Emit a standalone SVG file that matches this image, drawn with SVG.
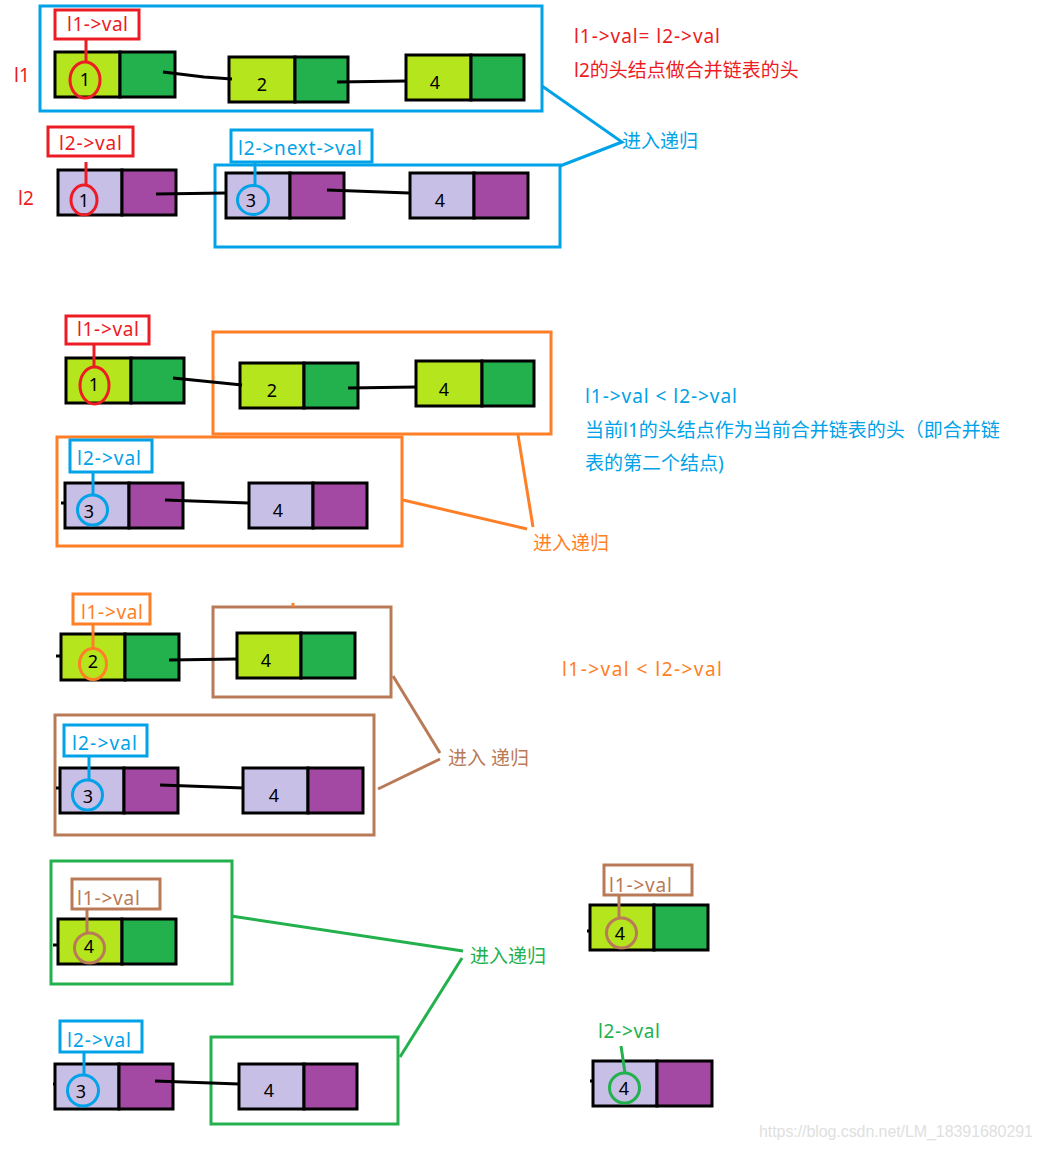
<svg xmlns="http://www.w3.org/2000/svg" width="1041" height="1149" viewBox="0 0 1041 1149">
<style>
text{font-family:"Noto Sans","Noto Sans CJK SC",sans-serif;font-size:19px}
.num{font-size:18px;fill:#000;text-anchor:middle}
.c{stroke:#000;stroke-width:3}
.lg{fill:#b5e61d}.dg{fill:#22b14c}.lv{fill:#c8bfe7}.pu{fill:#a349a4}
.box{fill:none;stroke-width:3}
.lb{fill:#fff;stroke-width:3}
.red{stroke:#ed1c24}.blu{stroke:#00a2e8}.org{stroke:#ff7f27}.brn{stroke:#b97a57}.grn{stroke:#22b14c}
.tr{fill:#ed1c24}.tb{fill:#00a2e8}.to{fill:#ff7f27}.tn{fill:#b97a57}.tg{fill:#22b14c}
.ring{fill:none;stroke-width:3}
.ln{fill:none;stroke-width:3}
.k{fill:none;stroke:#000;stroke-width:3}
</style>

<g id="boxes">
<rect class="box blu" x="40" y="6" width="502" height="105"/>
<rect class="box blu" x="215" y="165" width="345" height="82"/>
<rect class="box org" x="213" y="332" width="338" height="102"/>
<rect class="box org" x="57" y="437" width="345" height="109"/>
<rect class="box brn" x="213" y="607" width="178" height="90"/>
<rect class="box brn" x="55" y="715" width="319" height="120"/>
<rect class="box grn" x="51" y="861" width="181" height="123"/>
<rect class="box grn" x="211" y="1037" width="187" height="87"/>
</g>

<g id="n1a"><rect class="c lg" x="55" y="52" width="65" height="45"/><rect class="c dg" x="120" y="52" width="55" height="45"/><text class="num" x="85" y="86">1</text></g>
<g id="n1b"><rect class="c lg" x="229" y="57" width="66" height="45"/><rect class="c dg" x="295" y="57" width="53" height="45"/><text class="num" x="262" y="91">2</text></g>
<g id="n1c"><rect class="c lg" x="406" y="55" width="65" height="45"/><rect class="c dg" x="471" y="55" width="53" height="45"/><text class="num" x="435" y="89">4</text></g>
<g id="n2a"><rect class="c lv" x="58" y="170" width="64" height="45"/><rect class="c pu" x="122" y="170" width="54" height="45"/><text class="num" x="84" y="207">1</text></g>
<g id="n2b"><rect class="c lv" x="226" y="173" width="64" height="45"/><rect class="c pu" x="290" y="173" width="54" height="45"/><text class="num" x="251" y="207">3</text></g>
<g id="n2c"><rect class="c lv" x="410" y="173" width="64" height="45"/><rect class="c pu" x="474" y="173" width="54" height="45"/><text class="num" x="440" y="207">4</text></g>

<g id="n3a"><rect class="c lg" x="66" y="358" width="65" height="45"/><rect class="c dg" x="131" y="358" width="53" height="45"/><text class="num" x="94" y="391">1</text></g>
<g id="n3b"><rect class="c lg" x="240" y="363" width="64" height="45"/><rect class="c dg" x="304" y="363" width="54" height="45"/><text class="num" x="272" y="397">2</text></g>
<g id="n3c"><rect class="c lg" x="416" y="361" width="66" height="45"/><rect class="c dg" x="482" y="361" width="52" height="45"/><text class="num" x="444" y="396">4</text></g>
<g id="n4a"><rect class="c lv" x="65" y="483" width="64" height="45"/><rect class="c pu" x="129" y="483" width="54" height="45"/><text class="num" x="89" y="518">3</text></g>
<g id="n4b"><rect class="c lv" x="249" y="483" width="64" height="45"/><rect class="c pu" x="313" y="483" width="54" height="45"/><text class="num" x="278" y="517">4</text></g>

<g id="n5a"><rect class="c lg" x="61" y="634" width="64" height="46"/><rect class="c dg" x="125" y="634" width="54" height="46"/><text class="num" x="93" y="668">2</text></g>
<g id="n5b"><rect class="c lg" x="237" y="633" width="64" height="45"/><rect class="c dg" x="301" y="633" width="54" height="45"/><text class="num" x="266" y="667">4</text></g>
<g id="n6a"><rect class="c lv" x="60" y="768" width="64" height="45"/><rect class="c pu" x="124" y="768" width="54" height="45"/><text class="num" x="88" y="803">3</text></g>
<g id="n6b"><rect class="c lv" x="243" y="768" width="65" height="45"/><rect class="c pu" x="308" y="768" width="55" height="45"/><text class="num" x="274" y="802">4</text></g>

<g id="n7a"><rect class="c lg" x="58" y="919" width="64" height="45"/><rect class="c dg" x="122" y="919" width="54" height="45"/><text class="num" x="89" y="953">4</text></g>
<g id="n8a"><rect class="c lv" x="55" y="1064" width="64" height="45"/><rect class="c pu" x="119" y="1064" width="54" height="45"/><text class="num" x="81" y="1098">3</text></g>
<g id="n8b"><rect class="c lv" x="239" y="1064" width="65" height="45"/><rect class="c pu" x="304" y="1064" width="53" height="45"/><text class="num" x="269" y="1097">4</text></g>
<g id="n9a"><rect class="c lg" x="590" y="905" width="64" height="45"/><rect class="c dg" x="654" y="905" width="54" height="45"/><text class="num" x="620" y="940">4</text></g>
<g id="n10a"><rect class="c lv" x="593" y="1061" width="64" height="45"/><rect class="c pu" x="657" y="1061" width="55" height="45"/><text class="num" x="624" y="1095">4</text></g>

<g id="connectors">
<polyline class="k" points="163,72 204,77 232,79"/>
<line class="k" x1="337" y1="82" x2="406" y2="81"/>
<line class="k" x1="156" y1="194" x2="226" y2="193"/>
<line class="k" x1="327" y1="190" x2="409" y2="193"/>
<line class="k" x1="173" y1="378" x2="242" y2="385"/>
<line class="k" x1="348" y1="388" x2="417" y2="387"/>
<line class="k" x1="165" y1="500" x2="248" y2="503"/>
<line class="k" x1="169" y1="660" x2="237" y2="659"/>
<line class="k" x1="160" y1="785" x2="244" y2="788"/>
<line class="k" x1="155" y1="1081" x2="239" y2="1084"/>
<line class="k" x1="61" y1="503" x2="66" y2="503"/>
<line class="k" x1="56" y1="656" x2="62" y2="656"/>
<line class="k" x1="56" y1="788" x2="61" y2="788"/>
<line class="k" x1="53" y1="945" x2="59" y2="945"/>
<line class="k" x1="53" y1="1084" x2="56" y2="1084"/>
<line class="k" x1="587" y1="931" x2="591" y2="931"/>
<line class="k" x1="590" y1="1081" x2="594" y2="1081"/>
<line class="ln org" x1="293" y1="603" x2="293" y2="607"/>
<line class="ln red" x1="86" y1="39" x2="86" y2="62"/>
<line class="ln red" x1="86" y1="162" x2="86" y2="185"/>
<line class="ln blu" x1="255" y1="162" x2="255" y2="186"/>
<line class="ln red" x1="94" y1="344" x2="94" y2="367"/>
<line class="ln blu" x1="93" y1="472" x2="93" y2="495"/>
<line class="ln org" x1="93" y1="624" x2="93" y2="650"/>
<line class="ln blu" x1="89" y1="756" x2="89" y2="780"/>
<line class="ln brn" x1="87" y1="909" x2="87" y2="933"/>
<line class="ln blu" x1="84" y1="1052" x2="84" y2="1075"/>
<line class="ln brn" x1="619" y1="895" x2="619" y2="918"/>
<line class="ln grn" x1="621" y1="1046" x2="625" y2="1073"/>
<polyline class="ln blu" points="542,86 622,142 560,166"/>
<line class="ln org" x1="518" y1="435" x2="533" y2="527"/>
<line class="ln org" x1="403" y1="500" x2="527" y2="529"/>
<line class="ln brn" x1="393" y1="676" x2="440" y2="753"/>
<line class="ln brn" x1="378" y1="789" x2="440" y2="759"/>
<line class="ln grn" x1="231" y1="916" x2="463" y2="951"/>
<line class="ln grn" x1="462" y1="958" x2="400" y2="1057"/>
</g>

<g id="rings">
<ellipse class="ring red" cx="85" cy="80" rx="15" ry="18"/>
<ellipse class="ring red" cx="84" cy="200" rx="13" ry="15"/>
<ellipse class="ring blu" cx="253" cy="200" rx="15.5" ry="14.5"/>
<ellipse class="ring red" cx="94.5" cy="385.5" rx="14.5" ry="18.5"/>
<circle class="ring blu" cx="92.5" cy="510" r="15"/>
<ellipse class="ring org" cx="93" cy="664" rx="13.5" ry="15.5"/>
<circle class="ring blu" cx="87.5" cy="795" r="15"/>
<circle class="ring brn" cx="89.5" cy="948" r="15"/>
<circle class="ring blu" cx="83" cy="1090.5" r="15.5"/>
<circle class="ring brn" cx="621.5" cy="933" r="15"/>
<circle class="ring grn" cx="624.5" cy="1088" r="15"/>
</g>

<g id="lab1"><rect class="lb red" x="55" y="10" width="84" height="29"/><text class="tr" x="67" y="31" textLength="61">l1-&gt;val</text></g>
<g id="lab2"><rect class="lb red" x="48" y="127" width="85" height="29"/><text class="tr" x="59" y="150" textLength="63">l2-&gt;val</text></g>
<g id="lab3"><rect class="lb blu" x="231" y="130" width="141" height="32"/><text class="tb" x="238" y="155" textLength="124">l2-&gt;next-&gt;val</text></g>
<g id="lab4"><rect class="lb red" x="66" y="316" width="83" height="28"/><text class="tr" x="77" y="336" textLength="62">l1-&gt;val</text></g>
<g id="lab5"><rect class="lb blu" x="70" y="440" width="82" height="32"/><text class="tb" x="77" y="465" textLength="64">l2-&gt;val</text></g>
<g id="lab6"><rect class="lb org" x="73" y="594" width="77" height="30"/><text class="to" x="81" y="619" textLength="62">l1-&gt;val</text></g>
<g id="lab7"><rect class="lb blu" x="64" y="725" width="83" height="31"/><text class="tb" x="72" y="750" textLength="65">l2-&gt;val</text></g>
<g id="lab8"><rect class="lb brn" x="72" y="879" width="88" height="30"/><text class="tn" x="77" y="905" textLength="63">l1-&gt;val</text></g>
<g id="lab9"><rect class="lb blu" x="60" y="1021" width="82" height="31"/><text class="tb" x="67" y="1047" textLength="64">l2-&gt;val</text></g>
<g id="lab10"><rect class="lb brn" x="604" y="865" width="88" height="30"/><text class="tn" x="609" y="892" textLength="63">l1-&gt;val</text></g>
<g id="lab11"><text class="tg" x="598" y="1038" textLength="62">l2-&gt;val</text></g>

<g id="t-l1"><text class="tr" x="14" y="82">l1</text></g>
<g id="t-l2"><text class="tr" x="18" y="205">l2</text></g>
<g id="note1"><text class="tr" x="574" y="43" textLength="146">l1-&gt;val= l2-&gt;val</text><text class="tr" x="574" y="77">l2的头结点做合并链表的头</text></g>
<g id="rec1"><text class="tb" x="622" y="148">进入递归</text></g>
<g id="note2"><text class="tb" x="585" y="403" textLength="152">l1-&gt;val &lt; l2-&gt;val</text><text class="tb" x="585" y="437">当前l1的头结点作为当前合并链表的头（即合并链</text><text class="tb" x="585" y="470">表的第二个结点)</text></g>
<g id="rec2"><text class="to" x="533" y="550">进入递归</text></g>
<g id="note3"><text class="to" x="562" y="676" textLength="160">l1-&gt;val  &lt; l2-&gt;val</text></g>
<g id="rec3"><text class="tn" x="448" y="765">进入 递归</text></g>
<g id="rec4"><text class="tg" x="470" y="963">进入递归</text></g>
<g id="watermark"><text x="759" y="1137" textLength="274" style="font-family:'Liberation Sans',sans-serif;font-size:16px;fill:#e0e0e0">https://blog.csdn.net/LM_18391680291</text></g>
</svg>
